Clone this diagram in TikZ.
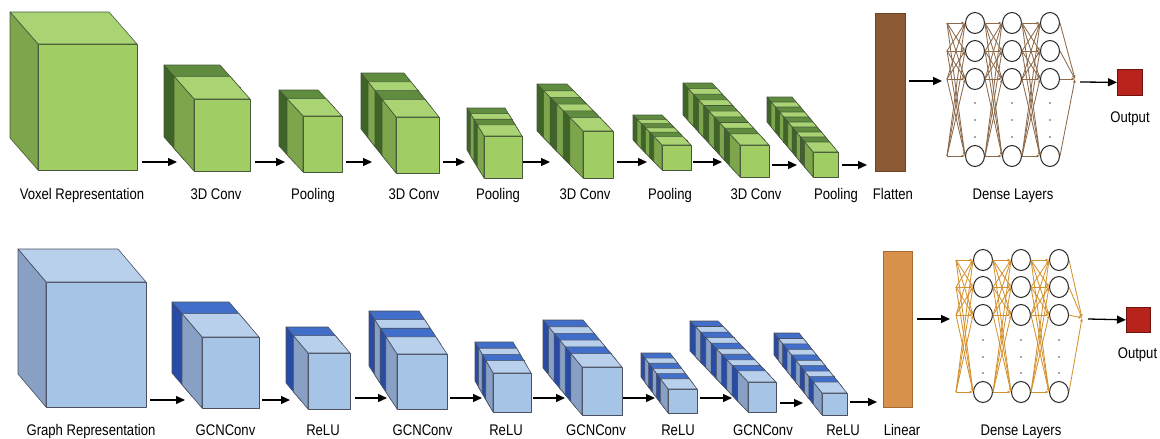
\documentclass[tikz,border=0pt]{standalone}
\usepackage{fontspec}
\setmainfont{Liberation Sans}[FakeStretch=0.85]
\usetikzlibrary{arrows.meta,shapes.geometric}
% green palette
\definecolor{gfront}{HTML}{A0CD64}
\definecolor{gtop}{HTML}{AAD473}
\definecolor{gside}{HTML}{7DA54B}
\definecolor{gdtop}{HTML}{5F8C3E}
\definecolor{gdside}{HTML}{3E6428}
\definecolor{gedge}{HTML}{46583A}
% blue palette
\definecolor{bfront}{HTML}{A6C4E6}
\definecolor{btop}{HTML}{B8D0EC}
\definecolor{bside}{HTML}{87A0C3}
\definecolor{bdtop}{HTML}{416EC8}
\definecolor{bdside}{HTML}{284BA5}
\definecolor{bedge}{HTML}{4A5060}
% others
\definecolor{flatfill}{HTML}{8B5A34}
\definecolor{flatedge}{HTML}{6B4426}
\definecolor{linfill}{HTML}{D8914A}
\definecolor{linedge}{HTML}{A66A30}
\definecolor{outfill}{HTML}{B8231C}
\definecolor{outedge}{HTML}{6E1410}
\definecolor{tlin}{HTML}{8C6A4C}
\definecolor{blin}{HTML}{D4922F}

\tikzset{
  arr/.style={-{Triangle[length=9pt,width=8pt]}, line width=1.3pt, black},
  lab/.style={anchor=base, font=\fontsize{15.4}{17}\selectfont, inner sep=0pt},
  neuron/.style={ellipse, draw=black!85, fill=white, line width=1pt,
    minimum width=19pt, minimum height=21pt, inner sep=0pt},
  tline/.style={draw=tlin, line width=0.85pt, -{Latex[length=3.5pt,width=3pt]}},
  bline/.style={draw=blin, line width=0.85pt, -{Latex[length=3.5pt,width=3pt]}},
  blockbox/.style={inner sep=0pt, anchor=north west, line width=0.7pt},
}

% #1 x0 #2 y0 (front face top-left) #3 w #4 h #5 slices #6 Ex #7 Ey #8 palette
\newcommand{\cubelayer}[8]{%
  \pgfmathsetmacro\cbsx{#5==1 ? #6 : #6/(#5+1)}%
  \pgfmathsetmacro\cbsy{#5==1 ? #7 : #7/(#5+1)}%
  \pgfmathsetmacro\cbdx{#5==1 ? #6 : 2*\cbsx}%
  \pgfmathsetmacro\cbdy{#5==1 ? #7 : 2*\cbsy}%
  \pgfmathtruncatemacro\cbkmax{#5-1}%
  \foreach \k in {\cbkmax,...,0}{%
    \pgfmathsetmacro\cbfx{#1-\k*\cbsx}%
    \pgfmathsetmacro\cbfy{#2-\k*\cbsy}%
    \pgfmathtruncatemacro\cbodd{mod(\k,2)}%
    \ifnum\cbodd=1 \def\cbtc{#8dtop}\def\cblc{#8dside}\else\def\cbtc{#8top}\def\cblc{#8side}\fi
    \filldraw[draw=#8edge, line width=0.6pt, line join=round, fill=#8front]
      (\cbfx,\cbfy) rectangle ++(#3,#4);
    \filldraw[draw=#8edge, line width=0.6pt, line join=round, fill=\cbtc]
      (\cbfx,\cbfy) -- ++(#3,0) -- ++(-\cbdx,-\cbdy) -- ++(-#3,0) -- cycle;
    \filldraw[draw=#8edge, line width=0.6pt, line join=round, fill=\cblc]
      (\cbfx,\cbfy) -- ++(-\cbdx,-\cbdy) -- ++(0,#4) -- ++(\cbdx,\cbdy) -- cycle;
  }%
}

% #1 prefix #2 x1 #3 x2 #4 x3 #5 xin #6 xout #7 yout #8 rows #9 line style
\newcommand{\densenet}[9]{%
  \foreach \r/\y in {#8}{%
    \node[neuron] (#1a\r) at (#2,\y) {};
    \node[neuron] (#1b\r) at (#3,\y) {};
    \node[neuron] (#1c\r) at (#4,\y) {};
    \coordinate (#1i\r) at (#5,\y);
  }%
  \coordinate (#1o) at (#6,#7);
  \foreach \i in {1,...,4}{%
    \foreach \j in {1,...,4}{%
      \draw[#9] (#1i\i) -- (#1a\j.west);
      \draw[#9] (#1a\i.east) -- (#1b\j.west);
      \draw[#9] (#1b\i.east) -- (#1c\j.west);
    }%
    \draw[#9] (#1c\i.east) -- (#1o);
  }%
}

\begin{document}
\begin{tikzpicture}[x=1pt,y=-1pt]
\useasboundingbox (0,0) rectangle (1160,439);

% ---------------- top row ----------------
\cubelayer{38}{44}{99}{126}{1}{28}{32}{g}
\cubelayer{194}{99}{56}{72}{2}{30}{34}{g}
\cubelayer{303}{116}{39}{56}{2}{24}{26}{g}
\cubelayer{396}{117}{43}{56}{4}{35}{44}{g}
\cubelayer{484}{136}{38}{42}{4}{17}{28}{g}
\cubelayer{583}{131}{30}{47}{6}{46}{47}{g}
\cubelayer{662}{145}{29}{25}{6}{29}{30}{g}
\cubelayer{740}{145}{29}{32}{10}{57}{62}{g}
\cubelayer{813}{152}{25}{25}{10}{46}{55}{g}

\node[blockbox, draw=flatedge, fill=flatfill, minimum width=30pt, minimum height=158pt] (flat) at (875,13) {};

\densenet{t}{975}{1012}{1050}{947}{1075}{79}{1/23,2/51,3/79,4/156}{tline}
\foreach \x in {975,1012,1050}{\foreach \y in {103,120,137}{\fill[black!70] (\x,\y) circle[radius=0.8pt];}}

\node[blockbox, draw=outedge, fill=outfill, minimum width=25pt, minimum height=26pt] (outt) at (1117,69) {};

% arrows top
\foreach \n/\a/\b/\y in {1/142/177/162, 2/255/285/162, 3/346/372/162, 4/443/465/162,
  5/523/550/162, 6/617/647/162, 7/693/722/162, 8/772/797/165, 9/842/867/165}{
  \coordinate (ta\n s) at (\a,\y);
  \coordinate (ta\n e) at (\b,\y);
  \draw[arr] (ta\n s) -- (ta\n e);
}
\coordinate (tf) at (909,81);
\coordinate (tfe) at (942,81);
\draw[arr] (tf) -- (tfe);
\coordinate (tos) at (1080,82);
\draw[arr] (tos) -- (outt.west);

% labels top
\node[lab] (l1) at (82,199) {Voxel Representation};
\node[lab] (l2) at (216,199) {3D Conv};
\node[lab] (l3) at (313,199) {Pooling};
\node[lab] (l4) at (414,199) {3D Conv};
\node[lab] (l5) at (498,199) {Pooling};
\node[lab] (l6) at (585,199) {3D Conv};
\node[lab] (l7) at (670,199) {Pooling};
\node[lab] (l8) at (756,199) {3D Conv};
\node[lab] (l9) at (836,199) {Pooling};
\node[lab] (l10) at (893,199) {Flatten};
\node[lab] (l11) at (1013,199) {Dense Layers};
\node[lab] (l12) at (1130,122) {Output};

% ---------------- bottom row ----------------
\cubelayer{46}{282}{100}{125}{1}{28}{33}{b}
\cubelayer{202}{337}{57}{71}{2}{30}{35}{b}
\cubelayer{308}{353}{42}{56}{2}{22}{26}{b}
\cubelayer{397}{354}{50}{55}{4}{28}{43}{b}
\cubelayer{493}{373}{38}{39}{4}{18}{31}{b}
\cubelayer{582}{367}{40}{48}{6}{39}{47}{b}
\cubelayer{668}{389}{29}{24}{6}{27}{36}{b}
\cubelayer{748}{382}{28}{30}{10}{58}{61}{b}
\cubelayer{822}{393}{25}{22}{10}{48}{60}{b}

\node[blockbox, draw=linedge, fill=linfill, minimum width=29pt, minimum height=156pt] (lin) at (883,251) {};

\densenet{u}{983}{1021}{1059}{956}{1082}{318}{1/260,2/287,3/315,4/392}{bline}
\foreach \x in {983,1021,1059}{\foreach \y in {340,357,373}{\fill[black!70] (\x,\y) circle[radius=0.8pt];}}

\node[blockbox, draw=outedge, fill=outfill, minimum width=24pt, minimum height=25pt] (outb) at (1126,307) {};

% arrows bottom
\foreach \n/\a/\b/\y in {1/150/185/400, 2/262/290/400, 3/355/387/398, 4/450/482/398,
  5/533/565/398, 6/623/655/398, 7/700/732/398, 8/780/803/403, 9/850/877/402}{
  \coordinate (ba\n s) at (\a,\y);
  \coordinate (ba\n e) at (\b,\y);
  \draw[arr] (ba\n s) -- (ba\n e);
}
\coordinate (bf) at (917,319);
\coordinate (bfe) at (950,319);
\draw[arr] (bf) -- (bfe);
\coordinate (bos) at (1088,319);
\draw[arr] (bos) -- (outb.west);

% labels bottom
\node[lab] (m1) at (91,435) {Graph Representation};
\node[lab] (m2) at (225.5,435) {GCNConv};
\node[lab] (m3) at (323,435) {ReLU};
\node[lab] (m4) at (422.5,435) {GCNConv};
\node[lab] (m5) at (506,435) {ReLU};
\node[lab] (m6) at (596,435) {GCNConv};
\node[lab] (m7) at (678,435) {ReLU};
\node[lab] (m8) at (763,435) {GCNConv};
\node[lab] (m9) at (843,435) {ReLU};
\node[lab] (m10) at (902,435) {Linear};
\node[lab] (m11) at (1021,435) {Dense Layers};
\node[lab] (m12) at (1137.5,358) {Output};
\end{tikzpicture}
\end{document}
